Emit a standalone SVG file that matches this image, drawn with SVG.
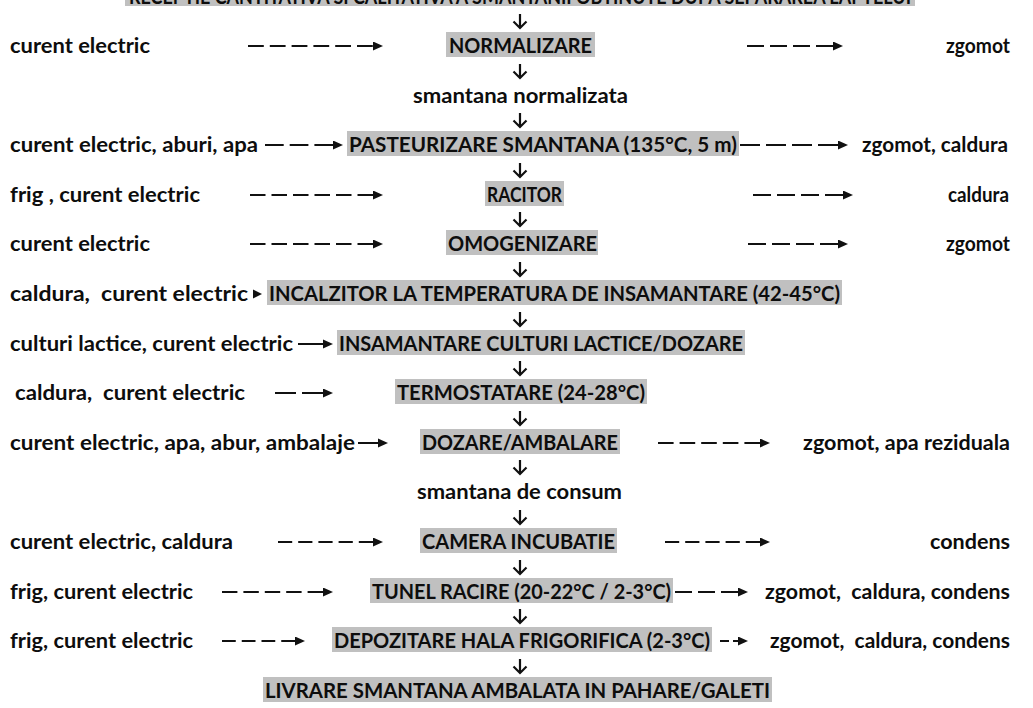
<svg xmlns="http://www.w3.org/2000/svg" width="1033" height="708" viewBox="0 0 1033 708">
  <style>
    text { font-family: Lato, "Liberation Sans", sans-serif; font-weight: 700; font-size: 21px; fill: #0d0d0d; }
    .hl { fill: #c0c0c0; }
    .flow { stroke: #111; stroke-width: 2; fill: none; }
    .down { stroke: #111; stroke-width: 2.2; fill: none; stroke-linejoin: miter; }
  </style>
  <defs>
    <marker id="head" markerWidth="10" markerHeight="9" refX="0" refY="4.5" orient="auto" markerUnits="userSpaceOnUse">
      <path d="M0,0 L10,4.5 L0,9 z" fill="#111"/>
    </marker>
  </defs>
  <rect width="1033" height="708" fill="#fff"/>

  <!-- process steps (centre column) -->
  <g id="n-receptie"><rect class="hl" x="125" y="-22" width="790" height="28"/><text x="129" y="4" textLength="782" lengthAdjust="spacingAndGlyphs">RECEPTIE CANTITATIVA SI CALITATIVA A SMANTANII OBTINUTE DUPA SEPARAREA LAPTELUI</text></g>
  <g id="n-normalizare"><rect class="hl" x="446" y="32" width="149" height="25"/><text x="449" y="53" textLength="143" lengthAdjust="spacingAndGlyphs">NORMALIZARE</text></g>
  <g id="p-normalizata"><text x="413" y="103" textLength="215" lengthAdjust="spacingAndGlyphs">smantana normalizata</text></g>
  <g id="n-pasteurizare"><rect class="hl" x="347" y="131" width="392" height="25"/><text x="349" y="152" textLength="388" lengthAdjust="spacingAndGlyphs">PASTEURIZARE SMANTANA (135°C, 5 m)</text></g>
  <g id="n-racitor"><rect class="hl" x="485" y="181" width="79" height="25"/><text x="487" y="202" textLength="75" lengthAdjust="spacingAndGlyphs">RACITOR</text></g>
  <g id="n-omogenizare"><rect class="hl" x="446" y="230" width="152" height="25"/><text x="448" y="251" textLength="149" lengthAdjust="spacingAndGlyphs">OMOGENIZARE</text></g>
  <g id="n-incalzitor"><rect class="hl" x="267" y="280" width="575" height="25"/><text x="269" y="301" textLength="571" lengthAdjust="spacingAndGlyphs">INCALZITOR LA TEMPERATURA DE INSAMANTARE (42-45°C)</text></g>
  <g id="n-insamantare"><rect class="hl" x="337" y="330" width="408" height="25"/><text x="339" y="351" textLength="404" lengthAdjust="spacingAndGlyphs">INSAMANTARE CULTURI LACTICE/DOZARE</text></g>
  <g id="n-termostatare"><rect class="hl" x="395" y="379" width="252" height="25"/><text x="397" y="400" textLength="248" lengthAdjust="spacingAndGlyphs">TERMOSTATARE (24-28°C)</text></g>
  <g id="n-dozare"><rect class="hl" x="420" y="429" width="200" height="25"/><text x="422" y="450" textLength="196" lengthAdjust="spacingAndGlyphs">DOZARE/AMBALARE</text></g>
  <g id="p-consum"><text x="417" y="499" textLength="205" lengthAdjust="spacingAndGlyphs">smantana de consum</text></g>
  <g id="n-camera"><rect class="hl" x="420" y="528" width="197" height="25"/><text x="422" y="549" textLength="193" lengthAdjust="spacingAndGlyphs">CAMERA INCUBATIE</text></g>
  <g id="n-tunel"><rect class="hl" x="370" y="578" width="303" height="25"/><text x="372" y="599" textLength="299" lengthAdjust="spacingAndGlyphs">TUNEL RACIRE (20-22°C / 2-3°C)</text></g>
  <g id="n-depozitare"><rect class="hl" x="332" y="627" width="380" height="25"/><text x="334" y="648" textLength="376" lengthAdjust="spacingAndGlyphs">DEPOZITARE HALA FRIGORIFICA (2-3°C)</text></g>
  <g id="n-livrare"><rect class="hl" x="263" y="677" width="509" height="25"/><text x="265" y="698" textLength="505" lengthAdjust="spacingAndGlyphs">LIVRARE SMANTANA AMBALATA IN PAHARE/GALETI</text></g>

  <!-- inputs (left column) -->
  <g id="in-normalizare"><text x="10" y="53" textLength="140" lengthAdjust="spacingAndGlyphs">curent electric</text></g>
  <g id="in-pasteurizare"><text x="10" y="152" textLength="248" lengthAdjust="spacingAndGlyphs">curent electric, aburi, apa</text></g>
  <g id="in-racitor"><text x="10" y="202" textLength="190" lengthAdjust="spacingAndGlyphs" xml:space="preserve">frig , curent electric</text></g>
  <g id="in-omogenizare"><text x="10" y="251" textLength="140" lengthAdjust="spacingAndGlyphs">curent electric</text></g>
  <g id="in-incalzitor"><text x="10" y="301" textLength="238" lengthAdjust="spacingAndGlyphs" xml:space="preserve">caldura,  curent electric</text></g>
  <g id="in-insamantare"><text x="10" y="351" textLength="283" lengthAdjust="spacingAndGlyphs">culturi lactice, curent electric</text></g>
  <g id="in-termostatare"><text x="15" y="400" textLength="230" lengthAdjust="spacingAndGlyphs" xml:space="preserve">caldura,  curent electric</text></g>
  <g id="in-dozare"><text x="10" y="450" textLength="345" lengthAdjust="spacingAndGlyphs">curent electric, apa, abur, ambalaje</text></g>
  <g id="in-camera"><text x="10" y="549" textLength="223" lengthAdjust="spacingAndGlyphs">curent electric, caldura</text></g>
  <g id="in-tunel"><text x="10" y="599" textLength="183" lengthAdjust="spacingAndGlyphs">frig, curent electric</text></g>
  <g id="in-depozitare"><text x="10" y="648" textLength="183" lengthAdjust="spacingAndGlyphs">frig, curent electric</text></g>

  <!-- outputs (right column) -->
  <g id="out-normalizare"><text x="946" y="53" textLength="64" lengthAdjust="spacingAndGlyphs">zgomot</text></g>
  <g id="out-pasteurizare"><text x="862" y="152" textLength="146" lengthAdjust="spacingAndGlyphs">zgomot, caldura</text></g>
  <g id="out-racitor"><text x="948" y="202" textLength="61" lengthAdjust="spacingAndGlyphs">caldura</text></g>
  <g id="out-omogenizare"><text x="946" y="251" textLength="64" lengthAdjust="spacingAndGlyphs">zgomot</text></g>
  <g id="out-dozare"><text x="803" y="450" textLength="207" lengthAdjust="spacingAndGlyphs">zgomot, apa reziduala</text></g>
  <g id="out-camera"><text x="930" y="549" textLength="80" lengthAdjust="spacingAndGlyphs">condens</text></g>
  <g id="out-tunel"><text x="765" y="599" textLength="245" lengthAdjust="spacingAndGlyphs" xml:space="preserve">zgomot,  caldura, condens</text></g>
  <g id="out-depozitare"><text x="770" y="648" textLength="240" lengthAdjust="spacingAndGlyphs" xml:space="preserve">zgomot,  caldura, condens</text></g>

  <!-- connectors -->
  <g id="connectors">
    <!-- main flow, downward arrows -->
    <path class="down" d="M520,14V28M513.5,21.5L520,28L526.5,21.5"/>
    <path class="down" d="M520,64V78M513.5,71.5L520,78L526.5,71.5"/>
    <path class="down" d="M520,113V127M513.5,120.5L520,127L526.5,120.5"/>
    <path class="down" d="M520,163V177M513.5,170.5L520,177L526.5,170.5"/>
    <path class="down" d="M520,212V226M513.5,219.5L520,226L526.5,219.5"/>
    <path class="down" d="M520,262V276M513.5,269.5L520,276L526.5,269.5"/>
    <path class="down" d="M520,312V326M513.5,319.5L520,326L526.5,319.5"/>
    <path class="down" d="M520,361V375M513.5,368.5L520,375L526.5,368.5"/>
    <path class="down" d="M520,411V425M513.5,418.5L520,425L526.5,418.5"/>
    <path class="down" d="M520,460V474M513.5,467.5L520,474L526.5,467.5"/>
    <path class="down" d="M520,510V524M513.5,517.5L520,524L526.5,517.5"/>
    <path class="down" d="M520,560V574M513.5,567.5L520,574L526.5,567.5"/>
    <path class="down" d="M520,609V623M513.5,616.5L520,623L526.5,616.5"/>
    <path class="down" d="M520,659V673M513.5,666.5L520,673L526.5,666.5"/>

    <!-- inputs -->
    <line class="flow" x1="248" y1="46" x2="373" y2="46" stroke-dasharray="15.8 6" marker-end="url(#head)"/>
    <line class="flow" x1="265" y1="145" x2="333" y2="145" stroke-dasharray="18.7 6" marker-end="url(#head)"/>
    <line class="flow" x1="250" y1="195" x2="373" y2="195" stroke-dasharray="15.5 6" marker-end="url(#head)"/>
    <line class="flow" x1="250" y1="244" x2="373" y2="244" stroke-dasharray="15.5 6" marker-end="url(#head)"/>
    <path d="M253,289.5L262,294L253,298.5z" fill="#111"/>
    <line class="flow" x1="298" y1="344" x2="323" y2="344"/>
    <path d="M323,339.5L333,344L323,348.5z" fill="#111"/>
    <line class="flow" x1="275" y1="393" x2="323" y2="393" stroke-dasharray="21 6" marker-end="url(#head)"/>
    <line class="flow" x1="358" y1="443" x2="378" y2="443"/>
    <path d="M378,438.5L388,443L378,447.5z" fill="#111"/>
    <line class="flow" x1="278" y1="542" x2="373" y2="542" stroke-dasharray="14.2 6" marker-end="url(#head)"/>
    <line class="flow" x1="222" y1="592" x2="323" y2="592" stroke-dasharray="15.4 6" marker-end="url(#head)"/>
    <line class="flow" x1="222" y1="641" x2="295" y2="641" stroke-dasharray="13.75 6" marker-end="url(#head)"/>

    <!-- outputs -->
    <line class="flow" x1="747" y1="46" x2="833" y2="46" stroke-dasharray="17 6" marker-end="url(#head)"/>
    <line class="flow" x1="740" y1="145" x2="838" y2="145" stroke-dasharray="20 6" marker-end="url(#head)"/>
    <line class="flow" x1="753" y1="195" x2="843" y2="195" stroke-dasharray="18 6" marker-end="url(#head)"/>
    <line class="flow" x1="748" y1="244" x2="838" y2="244" stroke-dasharray="18 6" marker-end="url(#head)"/>
    <line class="flow" x1="658" y1="443" x2="760" y2="443" stroke-dasharray="15.6 6" marker-end="url(#head)"/>
    <line class="flow" x1="665" y1="542" x2="760" y2="542" stroke-dasharray="14.2 6" marker-end="url(#head)"/>
    <line class="flow" x1="675" y1="592" x2="738" y2="592" stroke-dasharray="17 6" marker-end="url(#head)"/>
    <line class="flow" x1="720" y1="641" x2="738" y2="641" stroke-dasharray="9 4" marker-end="url(#head)"/>
  </g>
</svg>
